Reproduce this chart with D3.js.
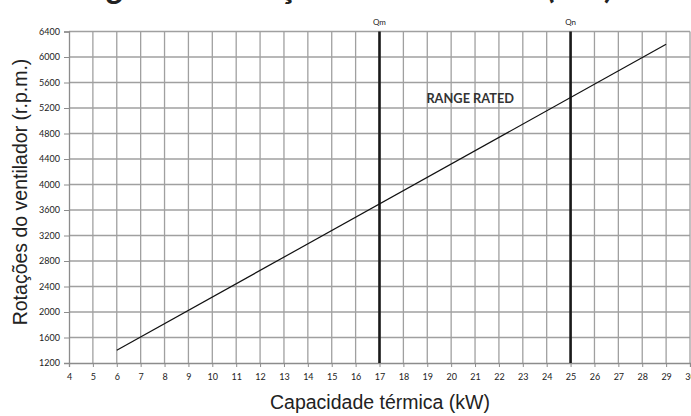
<!DOCTYPE html>
<html><head><meta charset="utf-8">
<script src="https://cdn.jsdelivr.net/npm/d3@7"></script>
<style>body{margin:0;background:#fff}svg{display:block}</style>
</head><body>
<svg id="c" width="691" height="416"></svg>
<script>
const xTicks = d3.range(4, 31);
const yTicks = d3.range(1200, 6401, 400);
const lineX = [6, 29];
const lineY = [1400, 6200];
const markerX = [17, 25];
const markerLabels = ["Qm", "Qn"];
const title = "Diagrama: Rotações do ventilador (kW)";
const xTitle = "Capacidade térmica (kW)";
const yTitle = "Rotações do ventilador (r.p.m.)";
const note = "RANGE RATED";
const notePos = [20.8, 5280];

const svg = d3.select("#c");
const x = d3.scaleLinear().domain([4, 30]).range([69, 690]);
const y = d3.scaleLinear().domain([1200, 6400]).range([363, 31.5]);

// title (cropped at top, only descenders visible as in reference)
svg.append("text").attr("x", 58).attr("y", -2.5)
  .attr("font-family", "Lato, sans-serif").attr("font-weight", "bold").attr("font-style", "italic")
  .attr("font-size", 34).attr("fill", "#222").text(title);

// grid
svg.append("g").selectAll("line").data(xTicks.slice(1)).join("line")
  .attr("x1", d => x(d)).attr("x2", d => x(d)).attr("y1", y(6400)).attr("y2", y(1200))
  .attr("stroke", "#a0a0a0").attr("stroke-width", 1.3);
svg.append("g").selectAll("line").data(yTicks.slice(1)).join("line")
  .attr("x1", x(4)).attr("x2", x(30)).attr("y1", d => y(d)).attr("y2", d => y(d))
  .attr("stroke", "#a0a0a0").attr("stroke-width", 1.3);

// axes
const xa = svg.append("g").attr("transform", `translate(0,${y(1200)})`)
  .call(d3.axisBottom(x).tickValues(xTicks).tickSize(4).tickFormat(d3.format("d")));
const ya = svg.append("g").attr("transform", `translate(${x(4)},0)`)
  .call(d3.axisLeft(y).tickValues(yTicks).tickSize(5).tickFormat(d3.format("d")));
[xa, ya].forEach(a => {
  a.select(".domain").attr("stroke", "#8c8c8c").attr("stroke-width", 1.3);
  a.selectAll(".tick line").attr("stroke", "#8c8c8c");
  a.selectAll("text").attr("font-family", "Lato, 'Open Sans', sans-serif").attr("font-size", 9).attr("fill", "#222");
});
xa.selectAll("text").attr("dy", "1.1em");
ya.selectAll("text").attr("x", -9);

// markers
svg.append("g").selectAll("line").data(markerX).join("line")
  .attr("x1", d => x(d)).attr("x2", d => x(d)).attr("y1", y(6400)).attr("y2", y(1200))
  .attr("stroke", "#1a1a1a").attr("stroke-width", 2.6);
svg.append("g").selectAll("text").data(markerX).join("text")
  .attr("x", d => x(d)).attr("y", 25).attr("text-anchor", "middle")
  .attr("font-family", "Lato, sans-serif").attr("font-size", 8).attr("fill", "#222")
  .text((d, i) => markerLabels[i]);

// line
const pts = lineX.map((d, i) => [d, lineY[i]]);
svg.append("path").datum(pts)
  .attr("d", d3.line().x(d => x(d[0])).y(d => y(d[1])))
  .attr("fill", "none").attr("stroke", "#111").attr("stroke-width", 1.2);

// note
svg.append("text").attr("x", x(notePos[0])).attr("y", y(notePos[1]))
  .attr("text-anchor", "middle").attr("font-family", "Lato, sans-serif").attr("font-weight", "bold")
  .attr("font-size", 12.8).attr("fill", "#333").text(note);

// axis titles
svg.append("text").attr("x", 380).attr("y", 409).attr("text-anchor", "middle")
  .attr("font-family", "'Liberation Sans', Arial, sans-serif").attr("font-size", 19.5).attr("fill", "#222").text(xTitle);
svg.append("text").attr("transform", "translate(27,192) rotate(-90)").attr("text-anchor", "middle")
  .attr("font-family", "'Liberation Sans', Arial, sans-serif").attr("font-size", 19.5).attr("fill", "#222").text(yTitle);
</script>
</body></html>
